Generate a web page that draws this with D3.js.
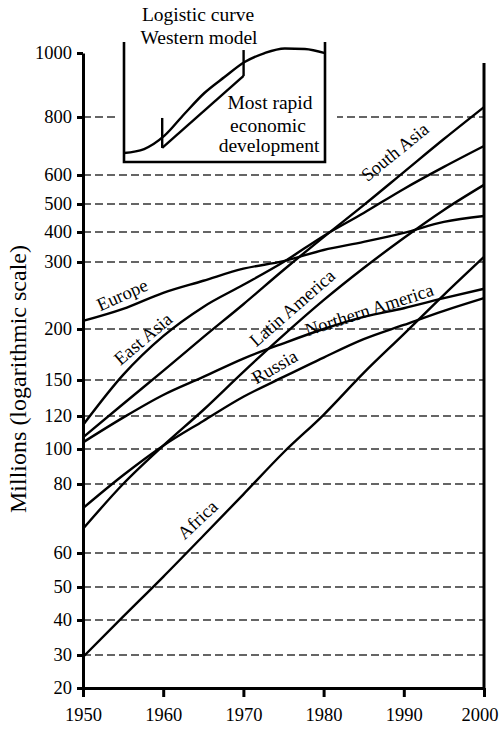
<!DOCTYPE html>
<html><head><meta charset="utf-8">
<script src="https://cdn.jsdelivr.net/npm/d3@7"></script>
<style>
html,body{margin:0;padding:0;background:#fff;}
svg{display:block;font-family:"Liberation Serif","Times New Roman",serif;}
</style></head><body>
<svg id="chart" width="499" height="729"></svg>
<script>
// ---------------- data ----------------
const years = [1950,1955,1960,1965,1970,1975,1980,1985,1990,1995,2000];
const europe          = [212,230,254,272,290,303,340,367,397,436,457];
const eastAsia        = [114.5,155,193,233,266,300,387,468,552,628,700];
const southAsia       = [107,130,159,192,237,288,383,496,610,724,831];
const latinAmerica    = [67,80,102,125,158,194,243,291,380,479,566];
const northernAmerica = [104,119,137.5,153,171,186,200,218,231,246,260];
const russia          = [73,85,102,117,136,153,172,190,206,227,246];
const africa          = [29.4,41,53,65,77,98,121,157,195,251,317];

const seriesNames = ["Europe","East Asia","South Asia","Latin America","Northern America","Russia","Africa"];
const seriesValues = [europe,eastAsia,southAsia,latinAmerica,northernAmerica,russia,africa];
// label anchor (year, value) and rotation
const labelYears  = [1954.9,1957.5,1988.9,1976.1,1985.7,1973.9,1964.3];
const labelValues = [250.7,190.2,679,231.3,228.4,162.7,69.6];
const labelAngles = [-24,-40,-39,-41,-18,-30,-43];

const yTicks = [20,30,40,50,60,80,100,120,150,200,300,400,500,600,800,1000];
const xTicks = [1950,1960,1970,1980,1990,2000];

// inset (schematic logistic curve)
const insetT     = [0,1,2,3,4,5,6,7,8,9,10];
const insetLevel = [7.5,10.8,21.7,40,57.5,70.8,83.3,90.8,94.6,94.2,90.8];
const markerT    = [1.9,5.95];
const markerLow  = [11.7,71.7];
const markerHigh = [36.7,93.3];

// ---------------- layout ----------------
const yTickPx = [688,655,620,587,553,484,449,416,380,329,262,232,204,175,117,53];
const x = d3.scaleLinear().domain([1950,2000]).range([83,484]);
const y = d3.scaleLinear().domain(yTicks).range(yTickPx);
const ix = d3.scaleLinear().domain([0,10]).range([124,325]);
const iy = d3.scaleLinear().domain([0,100]).range([162,42]);

const svg = d3.select("#chart");
const FS = 18.5;

// gridlines
svg.append("g").selectAll("line")
  .data(yTicks.filter(d => d !== 1000 && d !== 20)).join("line")
  .attr("x1", x(1950)).attr("x2", x(2000))
  .attr("y1", d => y(d)).attr("y2", d => y(d))
  .attr("stroke", "#333").attr("stroke-width", 1.4).attr("stroke-dasharray", "8,4");

// white mask behind the inset
svg.append("rect").attr("x", 118).attr("y", 95).attr("width", 219).attr("height", 40).attr("fill", "#fff");

// series lines
const line = d3.line().x((d,i) => x(years[i])).y(d => y(d)).curve(d3.curveMonotoneX);
svg.append("g").selectAll("path").data(seriesValues).join("path")
  .attr("d", line).attr("fill", "none").attr("stroke", "#000").attr("stroke-width", 2.4);

// series labels
svg.append("g").selectAll("text").data(seriesNames).join("text")
  .attr("transform", (d,i) => `translate(${x(labelYears[i])},${y(labelValues[i])}) rotate(${labelAngles[i]})`)
  .attr("text-anchor", "middle").attr("dominant-baseline", "central")
  .attr("font-size", FS).text(d => d);

// axes
const yAxis = svg.append("g").attr("transform", `translate(${x(1950)},0)`)
  .call(d3.axisLeft(y).tickValues(yTicks).tickSize(6).tickSizeOuter(0).tickPadding(5).tickFormat(d3.format("d")));
const xAxis = svg.append("g").attr("transform", `translate(0,${y(20)})`)
  .call(d3.axisBottom(x).tickValues(xTicks).tickSize(9).tickSizeOuter(0).tickPadding(11).tickFormat(d3.format("d")));
[yAxis, xAxis].forEach(g => {
  g.attr("font-family", null).attr("font-size", FS);
  g.select(".domain").attr("stroke", "#000").attr("stroke-width", 3);
  g.selectAll(".tick line").attr("stroke", "#000").attr("stroke-width", 3);
  g.selectAll(".tick text").attr("fill", "#000");
});
// keep the last year label inside the picture
xAxis.selectAll(".tick text").filter(d => d === 2000).attr("text-anchor", "end").attr("x", 14);

// right frame line
svg.append("line").attr("x1", x(2000)).attr("x2", x(2000)).attr("y1", 63).attr("y2", y(20))
  .attr("stroke", "#000").attr("stroke-width", 3);

// axis title
svg.append("text").attr("transform", "translate(18,379) rotate(-90)")
  .attr("text-anchor", "middle").attr("dominant-baseline", "central")
  .attr("font-size", 24).text("Millions (logarithmic scale)");

// ---------------- inset ----------------
const inset = svg.append("g");
inset.append("path")
  .attr("d", `M${ix(0)},${iy(100)}V${iy(0)}H${ix(10)}V${iy(100)}`)
  .attr("fill", "none").attr("stroke", "#000").attr("stroke-width", 2.6);
inset.append("path").datum(insetLevel)
  .attr("d", d3.line().x((d,i) => ix(insetT[i])).y(d => iy(d)).curve(d3.curveMonotoneX))
  .attr("fill", "none").attr("stroke", "#000").attr("stroke-width", 2.4);
inset.selectAll("line.m").data(markerT).join("line").attr("class", "m")
  .attr("x1", d => ix(d)).attr("x2", d => ix(d))
  .attr("y1", (d,i) => iy(markerLow[i])).attr("y2", (d,i) => iy(markerHigh[i]))
  .attr("stroke", "#000").attr("stroke-width", 2.4);
inset.append("line")
  .attr("x1", ix(markerT[0])).attr("y1", iy(markerLow[0]))
  .attr("x2", ix(markerT[1])).attr("y2", iy(markerLow[1]))
  .attr("stroke", "#000").attr("stroke-width", 2.4);
const insetTexts = [
  ["Logistic curve", 198, 21],
  ["Western model", 199, 44],
  ["Most rapid", 270, 109],
  ["economic", 268, 132],
  ["development", 269, 152]
];
inset.selectAll("text").data(insetTexts).join("text")
  .attr("x", d => d[1]).attr("y", d => d[2]).attr("text-anchor", "middle")
  .attr("font-size", 19.5).text(d => d[0]);
</script>
</body></html>
